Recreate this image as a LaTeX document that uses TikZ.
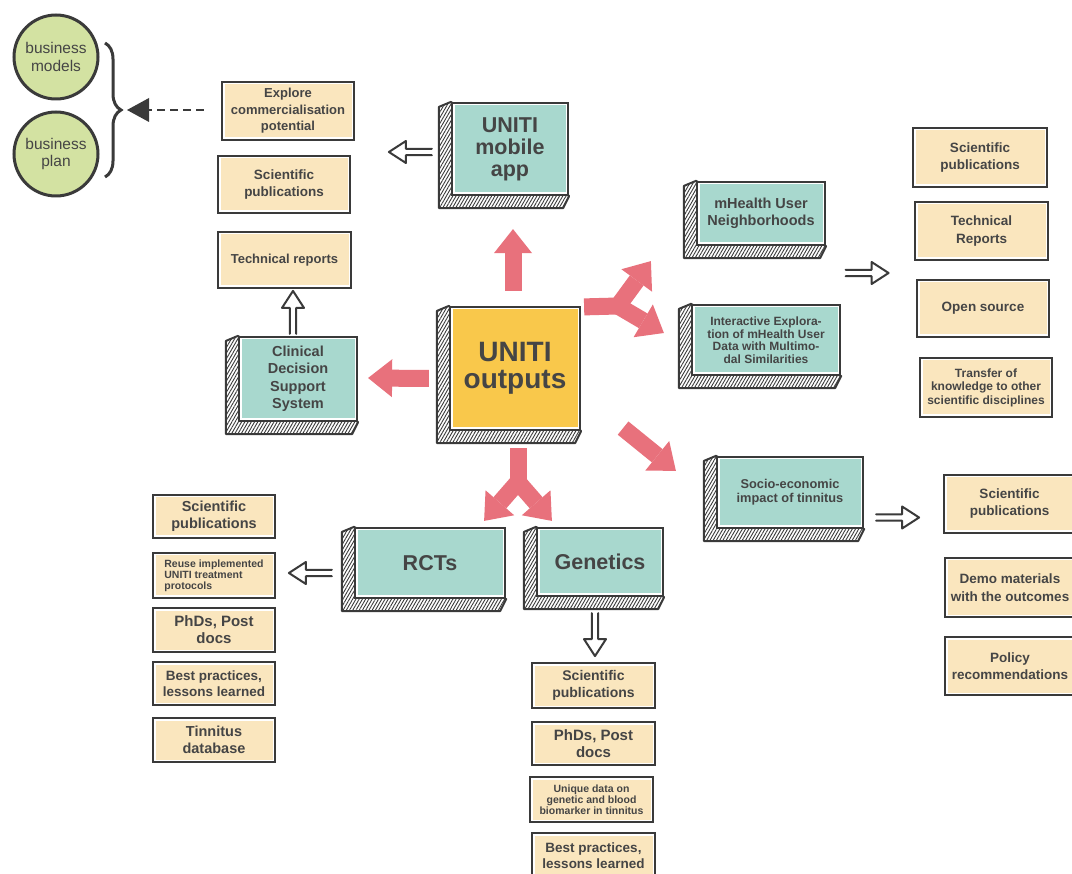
\documentclass[tikz,border=0pt]{standalone}
\usepackage{fontspec}
\setmainfont{Liberation Sans}
\usetikzlibrary{arrows.meta,calc,patterns.meta,backgrounds,decorations.pathreplacing}
\definecolor{ink}{HTML}{3A3A3A}
\definecolor{txt}{HTML}{454545}
\definecolor{beige}{HTML}{FAE6BE}
\definecolor{tealf}{HTML}{A8D8CE}
\definecolor{gold}{HTML}{F9C84B}
\definecolor{pinkA}{HTML}{E8717C}
\definecolor{greenc}{HTML}{D3E2A2}
\newcommand\fs[2]{\fontsize{#1}{#2}\selectfont}
\newcommand\depthof[1]{%
  \begin{scope}[on background layer]
    \path[depthstrip] (#1.north west) -- ++(-12,5) -- ($(#1.south west)+(-12,12)$)
      -- ($(#1.south east)+(-6,12)$) -- (#1.south east) -- cycle;
  \end{scope}}
\tikzset{
  inset/.style={path picture={\fill[#1] ([shift={(2.5pt,-2.5pt)}]path picture bounding box.north west) rectangle ([shift={(-2.5pt,2.5pt)}]path picture bounding box.south east);}},
  obox/.style 2 args={draw=ink, line width=2.3pt, fill=white, inset=beige, minimum width=#1pt, minimum height=#2pt, inner sep=1pt, align=center, text=txt, font=\bfseries\fs{13.5}{17}},
  face/.style 2 args={draw=ink, line width=2.2pt, fill=white, inset=tealf, minimum width=#1pt, minimum height=#2pt, inner sep=1pt, align=center, text=txt},
  depthstrip/.style={draw=ink, line width=2pt, line join=round, preaction={fill=white}, pattern={Lines[angle=60,distance=2.8pt,line width=0.9pt]}, pattern color=ink},
  circ/.style={circle, draw=ink, line width=3pt, fill=greenc, minimum size=84pt, inner sep=0pt, align=center, text=txt, font=\fs{15.5}{17.5}},
  pk/.style={draw=pinkA, line width=17pt, -{Triangle[length=24pt,width=38pt,line width=0pt]}},
  pkstem/.style={draw=pinkA, line width=17pt},
  pics/hollow/.style={code={
    \path[fill=white] (-43,-3.2) -- (-17,-3.2) -- (-17,-11) -- (0,0) -- (-17,11) -- (-17,3.2) -- (-43,3.2) -- cycle;
    \draw[ink, line width=2pt, line join=round, line cap=round] (-43,-3.2) -- (-17,-3.2) -- (-17,-11) -- (0,0) -- (-17,11) -- (-17,3.2) -- (-43,3.2);
  }}
}
\begin{document}
\begin{tikzpicture}[x=1pt, y=-1pt]
\useasboundingbox (0,0) rectangle (1072,874);
\begin{scope}[on background layer]
  \fill[white] (0,0) rectangle (1072,874);
\end{scope}

% business circles and brace
\node[circ] (bmodels) at (56,57) {business\\models};
\node[circ] (bplan) at (56,154) {business\\plan};
\draw[ink, line width=3pt, decorate, decoration={brace, amplitude=16pt}] (105,43) -- (105,177);
\coordinate (bracetip) at (127,110);

% top-left beige column
\node[obox={132}{58}, font=\bfseries\fs{13}{16.5}] (explore) at (288,111) {Explore\\commercialisation\\potential};
\node[obox={132}{57}] (sci1) at (284,184.5) {Scientific\\publications};
\node[obox={133}{56}, font=\bfseries\fs{13}{16}] (tech1) at (284.5,260) {Technical reports};

\draw[ink, line width=2.5pt, dash pattern=on 8pt off 5pt, -{Triangle[length=22pt,width=24pt,line width=0pt]}] ($(explore.west)+(-17,-1)$) -- (bracetip);

% teal boxes
\node[face={116}{92}, font=\bfseries\fs{21.5}{22}] (mobile) at (510,149) {UNITI\\mobile\\app};
\depthof{mobile}
\node[face={130}{123}, inset=gold, font=\bfseries\fs{28}{27}] (outputs) at (515,368.5) {UNITI\\outputs};
\depthof{outputs}
\node[face={118}{84}, font=\bfseries\fs{14.5}{17.5}] (cdss) at (298,379) {Clinical\\Decision\\Support\\System};
\depthof{cdss}
\node[face={128}{63}, font=\bfseries\fs{14.5}{16.5}] (mhealth) at (761,213.5) {mHealth User\\Neighborhoods};
\depthof{mhealth}
\node[face={148}{70}, font=\bfseries\fs{12}{12.5}] (inter) at (766,340) {Interactive Explora-\\tion of mHealth User\\Data with Multimo-\\dal Similarities};
\depthof{inter}
\node[face={146}{71}, font=\bfseries\fs{12.8}{13.8}] (socio) at (790,492.5) {Socio-economic\\impact of tinnitus};
\depthof{socio}
\node[face={150}{70}, font=\bfseries\fs{21.5}{24}] (rcts) at (430,563) {RCTs};
\depthof{rcts}
\node[face={126}{68}, font=\bfseries\fs{21.5}{24}] (genetics) at (600,562) {Genetics};
\depthof{genetics}

% right upper beige column
\node[obox={134}{59}] (sci2) at (980,157.5) {Scientific\\publications};
\node[obox={133}{58}, font=\bfseries\fs{13.5}{17.5}] (tech2) at (981.5,231) {Technical\\Reports};
\node[obox={132}{57}] (open) at (983,308.5) {Open source};
\node[obox={132}{59}, font=\bfseries\fs{12}{13.5}] (transfer) at (986,387.5) {Transfer of\\knowledge to other\\scientific disciplines};

% right lower beige column
\node[obox={131}{58}] (sci3) at (1009.5,504) {Scientific\\publications};
\node[obox={130}{59}, font=\bfseries\fs{13.5}{18}] (demo) at (1010,587.5) {Demo materials\\with the outcomes};
\node[obox={130}{58}, font=\bfseries\fs{13.5}{17.5}] (policy) at (1010,666) {Policy\\recommendations};

% bottom-left beige column
\node[obox={122}{43}, font=\bfseries\fs{14.5}{16.5}] (sci4) at (214,516.5) {Scientific\\publications};
\node[obox={122}{45}, font=\bfseries\fs{10.5}{11}, align=left] (reuse) at (214,575.5) {Reuse implemented\\UNITI treatment\\protocols};
\node[obox={122}{44}, font=\bfseries\fs{15}{17}] (phd1) at (214,630) {PhDs, Post\\docs};
\node[obox={122}{43}, font=\bfseries\fs{13.5}{16}] (best1) at (214,683.5) {Best practices,\\lessons learned};
\node[obox={122}{44}, font=\bfseries\fs{14.5}{16.5}] (tinn) at (214,740) {Tinnitus\\database};

% bottom-middle beige column
\node[obox={123}{45}, font=\bfseries\fs{14}{16.5}] (sci5) at (593.5,685.5) {Scientific\\publications};
\node[obox={123}{43}, font=\bfseries\fs{15}{17}] (phd2) at (593.5,743.5) {PhDs, Post\\docs};
\node[obox={123}{45}, font=\bfseries\fs{10.5}{11}] (unique) at (591.5,799.5) {Unique data on\\genetic and blood\\biomarker in tinnitus};
\node[obox={123}{45}, font=\bfseries\fs{13.5}{16}] (best2) at (593.5,855.5) {Best practices,\\lessons learned};

% pink arrows
\draw[pk] ($(outputs.north)+(-2,-15)$) -- ($(mobile.south)+(3,33)$);
\draw[pk] ($(outputs.west)+(-20,10)$) -- ($(cdss.east)+(10,-1)$);
\draw[pk] ($(outputs.south east)+(42,-3)$) -- ($(socio.north west)+(-40,15)$);
% right fork
\coordinate (jr) at (618,306);
\draw[pkstem] ($(outputs.north east)+(3,1)$) -- (jr);
\fill[pinkA] (jr) circle (8.5);
\draw[pk] (jr) -- ($(mhealth.south west)+(-45,15)$);
\draw[pk] (jr) -- ($(inter.west)+(-27,-7)$);
% bottom fork
\coordinate (jb) at (518,482);
\draw[pkstem] ($(outputs.south)+(3,17)$) -- (jb);
\fill[pinkA] (jb) circle (8.5);
\draw[pk] (jb) -- ($(rcts.north east)+(-22,-6)$);
\draw[pk] (jb) -- ($(genetics.north west)+(16,-6)$);

% hollow arrows
\pic[rotate=180] at ($(mobile.west)+(-62,3)$) {hollow};
\pic[rotate=90] at ($(cdss.north)+(-5,-45)$) {hollow};
\pic at ($(mhealth.south east)!0.5!(inter.north east)+(55,-2)$) {hollow};
\pic at ($(socio.east)+(55,25)$) {hollow};
\pic[rotate=180] at ($(rcts.west)+(-65,10)$) {hollow};
\pic[rotate=-90] at ($(genetics.south)+(-5,59)$) {hollow};
\end{tikzpicture}
\end{document}
